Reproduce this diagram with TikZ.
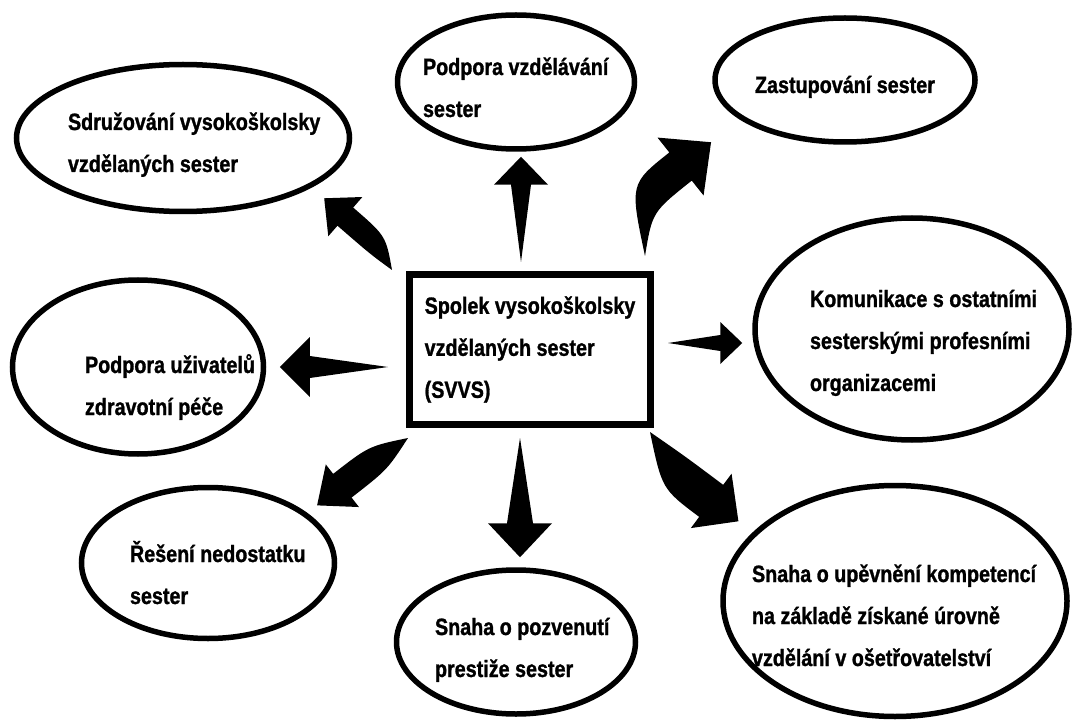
\documentclass[tikz,border=0pt]{standalone}
\usepackage{fontspec}
\setmainfont{Liberation Sans}[FakeStretch=0.84, BoldFeatures={FakeBold=1.2}]
\usetikzlibrary{shapes.geometric,calc}

\newcommand{\ovaltext}[3]{\makebox[0pt][l]{\hspace*{#1}\raisebox{#2}[0pt][0pt]{\begin{tabular}[t]{@{}l@{}}#3\end{tabular}}}}

\tikzset{
  goal/.style={ellipse, draw, line width=5.5pt, inner sep=0pt},
  mainbox/.style={rectangle, draw, line width=7pt, inner sep=0pt, align=left,
    minimum width=241pt, minimum height=150pt},
  % bend, head length, head half width, shaft half width
  fatarrow/.style n args={4}{
    to path={.. controls ($(#1)!#4!90:(\tikztotarget)$) .. ($(\tikztotarget)!#2!(#1)!#4!90:(\tikztotarget)$)
      -- ($(\tikztotarget)!#2!(#1)!#3!90:(\tikztotarget)$)
      -- (\tikztotarget)
      -- ($(\tikztotarget)!#2!(#1)!#3!-90:(\tikztotarget)$)
      -- ($(\tikztotarget)!#2!(#1)!#4!-90:(\tikztotarget)$)
      .. controls ($(#1)!#4!-90:(\tikztotarget)$) .. (\tikztostart) -- cycle}},
  % head length, head half width, shaft half width
  straightarrow/.style n args={3}{
    to path={-- ($(\tikztotarget)!#1!(\tikztostart)!#3!90:(\tikztotarget)$)
      -- ($(\tikztotarget)!#1!(\tikztostart)!#2!90:(\tikztotarget)$)
      -- (\tikztotarget)
      -- ($(\tikztotarget)!#1!(\tikztostart)!#2!-90:(\tikztotarget)$)
      -- ($(\tikztotarget)!#1!(\tikztostart)!#3!-90:(\tikztotarget)$)
      -- cycle}}
}

\begin{document}
\begin{tikzpicture}[x=1pt, y=-1pt, font=\fontsize{23.5}{42}\selectfont\bfseries]
    \useasboundingbox (0,0) rectangle (1074,722);
    % centre
    \node[mainbox] (svvs) at (530,349.5) {Spolek vysokoškolsky\\vzdělaných sester\\(SVVS)};
    % goals
    \node[goal, minimum width=333pt, minimum height=147pt] (sdruz) at (183,138)
        {\ovaltext{-115pt}{8pt}{Sdružování vysokoškolsky\\vzdělaných sester}};
    \node[goal, minimum width=237pt, minimum height=134pt] (podv) at (516,82)
        {\ovaltext{-93pt}{7pt}{Podpora vzdělávání\\sester}};
    \node[goal, minimum width=260pt, minimum height=124pt] (zast) at (845,80)
        {\ovaltext{-90pt}{-13pt}{Zastupování sester}};
    \node[goal, minimum width=314pt, minimum height=222pt] (komu) at (912,329)
        {\ovaltext{-102pt}{22pt}{Komunikace s ostatními\\sesterskými profesními\\organizacemi}};
    \node[goal, minimum width=251pt, minimum height=174pt] (uziv) at (138,367)
        {\ovaltext{-53pt}{-6pt}{Podpora uživatelů\\zdravotní péče}};
    \node[goal, minimum width=253pt, minimum height=151pt] (reseni) at (208,563)
        {\ovaltext{-78pt}{1pt}{Řešení nedostatku\\sester}};
    \node[goal, minimum width=239pt, minimum height=144pt] (prest) at (516,642)
        {\ovaltext{-81pt}{7pt}{Snaha o pozvenutí\\prestiže sester}};
    \node[goal, minimum width=344pt, minimum height=231pt] (kompet) at (895,601)
        {\ovaltext{-143pt}{19pt}{Snaha o upěvnění kompetencí\\na základě získané úrovně\\vzdělání v ošetřovatelství}};
    % bends of the curved arrows
    \coordinate (c1) at (378,245);
    \coordinate (c3) at (641,198);
    \coordinate (c6) at (378,458);
    \coordinate (c8) at (674,473);
    % arrows
    \fill[fatarrow={c1}{28pt}{26pt}{12pt}] ([shift={(-14,-1)}]svvs.north west) to ([shift={(18,8)}]sdruz.-23);
    \fill[straightarrow={28pt}{27pt}{10pt}] ([shift={(-9,-9)}]svvs.north) to ([shift={(5,5)}]podv.south);
    \fill[fatarrow={c3}{39pt}{37pt}{18pt}] ([shift={(-9,-15)}]svvs.north east) to ([shift={(-38,17.5)}]zast.205);
    \fill[straightarrow={22pt}{21pt}{8pt}] ([shift={(14,-6.5)}]svvs.east) to ([shift={(-10,14)}]komu.west);
    \fill[straightarrow={30pt}{30pt}{11pt}] ([shift={(-18,17.5)}]svvs.west) to ([shift={(13.5,0)}]uziv.east);
    \fill[fatarrow={c6}{32pt}{27pt}{15pt}] ([shift={(2,10)}]svvs.south west) to ([shift={(12,-6)}]reseni.28);
    \fill[straightarrow={34pt}{32pt}{13pt}] ([shift={(-10,10)}]svvs.south) to ([shift={(4,-10)}]prest.north);
    \fill[fatarrow={c8}{34pt}{34pt}{20pt}] ([shift={(-4,4)}]svvs.south east) to ([shift={(-17,-8.6)}]kompet.153);
\end{tikzpicture}
\end{document}
